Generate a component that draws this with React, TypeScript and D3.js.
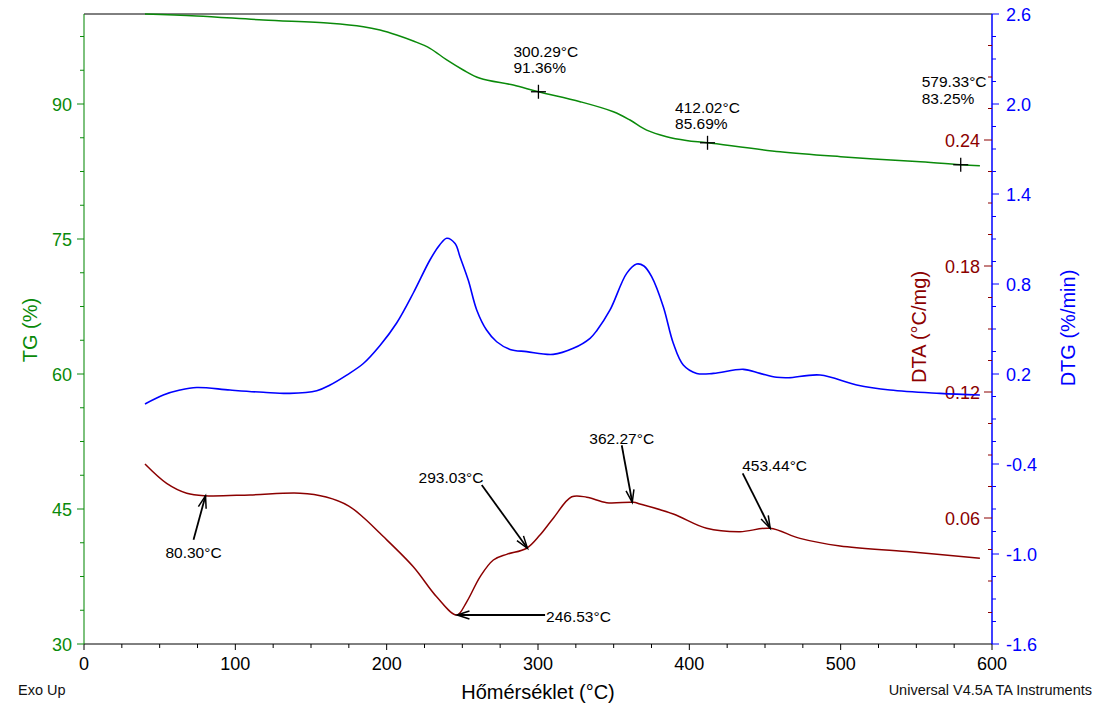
import React from 'react';
import * as d3 from 'd3';

// ---------- data ----------
const tgTemp = [40.3, 74.5, 118.5, 162.6, 184.6, 195.6, 206.6, 217.6, 228.6, 239.7, 250.6, 261.7, 283.7, 300.3, 327.8, 349.8, 360.8, 371.8, 385, 398, 412, 460, 500, 550, 579.3, 592];
const tgValue = [100.0, 99.78, 99.33, 98.97, 98.59, 98.22, 97.67, 97.0, 96.19, 94.89, 93.78, 92.86, 92.1, 91.36, 90.26, 89.14, 88.22, 87.1, 86.37, 85.95, 85.69, 84.7, 84.15, 83.6, 83.25, 83.15];

const dtgTemp = [40.3, 52.4, 63.4, 74.5, 96.5, 118.5, 136, 153.8, 162.6, 173.6, 184.6, 195.6, 206.6, 217.6, 228.6, 235, 239.7, 245.2, 248.5, 254, 259.5, 266, 272.7, 281.5, 292.5, 310, 323.3, 334.4, 338.8, 347.6, 358.6, 365.2, 370, 375.1, 382.8, 389.4, 396, 404.9, 415.9, 435.7, 446.7, 457.7, 465.4, 486.4, 510.6, 532.6, 565.6, 592];
const dtgValue = [0.0, 0.06, 0.093, 0.11, 0.093, 0.078, 0.071, 0.089, 0.127, 0.193, 0.27, 0.39, 0.54, 0.74, 0.96, 1.06, 1.105, 1.07, 0.98, 0.823, 0.627, 0.493, 0.415, 0.364, 0.349, 0.331, 0.371, 0.438, 0.489, 0.627, 0.871, 0.933, 0.92, 0.849, 0.649, 0.405, 0.26, 0.204, 0.204, 0.231, 0.204, 0.178, 0.175, 0.193, 0.127, 0.093, 0.071, 0.06];

const dtaTemp = [40.3, 54.6, 67.9, 80, 109.7, 142.7, 160, 175, 185, 195.6, 217.6, 233, 246.3, 252.9, 261.7, 270.5, 279.3, 292.5, 301.3, 310.1, 322.3, 332.2, 345.4, 363, 367.4, 389.4, 411.4, 433.5, 453.3, 473.1, 499.6, 543.6, 592];
const dtaValue = [0.0857, 0.0765, 0.0718, 0.0706, 0.071, 0.0718, 0.07, 0.0657, 0.06, 0.0527, 0.0368, 0.0225, 0.0138, 0.0201, 0.032, 0.04, 0.0427, 0.0456, 0.0519, 0.0599, 0.0701, 0.0699, 0.0673, 0.0675, 0.0667, 0.0619, 0.0551, 0.0535, 0.0551, 0.0503, 0.0467, 0.044, 0.0408];

const xTickLabels = [0, 100, 200, 300, 400, 500, 600];
const tgTickLabels = [30, 45, 60, 75, 90];
const dtgTickLabels = [-1.6, -1.0, -0.4, 0.2, 0.8, 1.4, 2.0, 2.6];
const dtaTickLabels = [0.06, 0.12, 0.18, 0.24];

const tgMarkTemp = [300.29, 412.02, 579.33];
const tgMarkValue = [91.36, 85.69, 83.25];

const dtaPeakTemp = [80.3, 246.53, 293.03, 362.27, 453.44];
const dtaPeakValue = [0.0706, 0.0138, 0.0456, 0.0675, 0.0551];

// ---------- layout ----------
const W = 1102, H = 709;
const L = 84, R = 992, T = 14, B = 644;
const FONT = 'Liberation Sans, Arial, sans-serif';
const GREEN = '#0a8a0a';
const BLUE = '#0000ff';
const RED = '#8b0000';
const ANN = 15.5;

const tgLabelOff = [
  { dx: -25, dy1: -34.5, dy2: -18.5 },
  { dx: -32.5, dy1: -29.5, dy2: -13.5 },
  { dx: -39, dy1: -78, dy2: -60.5 },
];
// tail offsets and label offsets relative to tip
const peakOff = [
  { tx: -12, ty: 44, lx: -12, ly: 62, anchor: 'middle' },
  { tx: 88, ty: 0, lx: 89, ly: 7, anchor: 'start' },
  { tx: -45.7, ty: -63.3, lx: -44, ly: -65, anchor: 'end' },
  { tx: -10.5, ty: -57, lx: -10.5, ly: -58, anchor: 'middle' },
  { tx: -27.5, ty: -55, lx: -28, ly: -57, anchor: 'start' },
];

export default function App() {
  const x = d3.scaleLinear().domain([0, 600]).range([L, R]);
  const yTG = d3.scaleLinear().domain([30, 100]).range([B, T]);
  const yDTG = d3.scaleLinear().domain([-1.6, 2.6]).range([B, T]);
  const yDTA = d3.scaleLinear().domain([0, 0.3]).range([B, T]);

  const mk = (ts: number[], vs: number[], y: (v: number) => number, curve: any) =>
    d3.line<number>().x((_, i) => x(ts[i])).y((v) => y(v)).curve(curve)(vs) || '';

  const tgPath = mk(tgTemp, tgValue, yTG, d3.curveCatmullRom.alpha(0.5));
  const dtgPath = mk(dtgTemp, dtgValue, yDTG, d3.curveCatmullRom.alpha(0.5));
  const dtaPath = mk(dtaTemp, dtaValue, yDTA, d3.curveCatmullRom.alpha(0.5));

  const xMinor = d3.range(0, 25).map((i) => i * 25);
  const tgMinor = d3.range(0, 19).map((i) => 30 + i * 3.75);
  const dtgMinor = d3.range(0, 29).map((i) => -1.6 + i * 0.15);
  const dtaMinor = d3.range(1, 20).map((i) => i * 0.015);

  const arrowHead = (tx: number, ty: number, fx: number, fy: number) => {
    const ang = Math.atan2(fy - ty, fx - tx);
    const len = 13, a = (18 * Math.PI) / 180;
    const p1 = [tx + len * Math.cos(ang + a), ty + len * Math.sin(ang + a)];
    const p2 = [tx + len * Math.cos(ang - a), ty + len * Math.sin(ang - a)];
    return `M${p1[0]},${p1[1]}L${tx},${ty}L${p2[0]},${p2[1]}`;
  };

  return (
    <svg width={W} height={H} style={{ position: 'absolute', left: 0, top: 0, background: '#fff' }} fontFamily={FONT}>
      {/* frame top */}
      <line x1={L} x2={R} y1={T} y2={T} stroke="#000" strokeWidth={1} />
      {/* bottom axis */}
      <line x1={L} x2={R} y1={B} y2={B} stroke="#000" strokeWidth={1} />
      {xMinor.map((v) => (
        <line key={'xm' + v} x1={x(v)} x2={x(v)} y1={B} y2={B + (v % 100 === 0 ? 6 : 4)} stroke="#000" />
      ))}
      {xTickLabels.map((v) => (
        <text key={'xl' + v} x={x(v)} y={670} fontSize={18} textAnchor="middle" fill="#000">{v}</text>
      ))}
      {/* left TG axis */}
      <line x1={L} x2={L} y1={T} y2={B} stroke={GREEN} strokeWidth={1.5} opacity={0.7} />
      {tgMinor.map((v, i) => (
        <line key={'tm' + i} x1={L - (i % 4 === 0 ? 7 : 4)} x2={L} y1={yTG(v)} y2={yTG(v)} stroke={GREEN} />
      ))}
      {tgTickLabels.map((v) => (
        <text key={'tl' + v} x={72} y={yTG(v) + 6.5} fontSize={18} textAnchor="end" fill={GREEN}>{v}</text>
      ))}
      {/* right DTG axis */}
      <line x1={R} x2={R} y1={T} y2={B} stroke={BLUE} strokeWidth={1.5} />
      {dtgMinor.map((v, i) => (
        <line key={'gm' + i} x1={R} x2={R + (i % 4 === 0 ? 7 : 4)} y1={yDTG(v)} y2={yDTG(v)} stroke={BLUE} />
      ))}
      {dtgTickLabels.map((v) => (
        <text key={'gl' + v} x={1006} y={yDTG(v) + 6.5} fontSize={18} textAnchor="start" fill={BLUE}>{v.toFixed(1)}</text>
      ))}
      {/* DTA ticks */}
      {dtaMinor.map((v, i) => (
        <line key={'am' + i} x1={R - ((i + 1) % 4 === 0 ? 8 : 4)} x2={R} y1={yDTA(v)} y2={yDTA(v)} stroke={RED} />
      ))}
      {dtaTickLabels.map((v) => (
        <text key={'al' + v} x={980} y={yDTA(v) + 6.5} fontSize={18} textAnchor="end" fill={RED}>{v.toFixed(2)}</text>
      ))}

      {/* curves */}
      <path d={tgPath} fill="none" stroke={GREEN} strokeWidth={1.5} />
      <path d={dtgPath} fill="none" stroke={BLUE} strokeWidth={1.6} />
      <path d={dtaPath} fill="none" stroke={RED} strokeWidth={1.5} />

      {/* TG crosshair annotations */}
      {tgMarkTemp.map((t, i) => {
        const cx = x(t), cy = yTG(tgMarkValue[i]);
        const o = tgLabelOff[i];
        return (
          <g key={'tg' + i}>
            <line x1={cx - 7.5} x2={cx + 7.5} y1={cy} y2={cy} stroke="#000" strokeWidth={1.3} />
            <line x1={cx} x2={cx} y1={cy - 7} y2={cy + 7} stroke="#000" strokeWidth={1.3} />
            <text x={cx + o.dx} y={cy + o.dy1} fontSize={ANN} fill="#000">{t.toFixed(2)}°C</text>
            <text x={cx + o.dx} y={cy + o.dy2} fontSize={ANN} fill="#000">{tgMarkValue[i].toFixed(2)}%</text>
          </g>
        );
      })}

      {/* DTA peak annotations */}
      {dtaPeakTemp.map((t, i) => {
        const px = x(t), py = yDTA(dtaPeakValue[i]);
        const o = peakOff[i];
        const fx = px + o.tx, fy = py + o.ty;
        return (
          <g key={'pk' + i}>
            <line x1={fx} y1={fy} x2={px} y2={py} stroke="#000" strokeWidth={1.8} />
            <path d={arrowHead(px, py, fx, fy)} fill="none" stroke="#000" strokeWidth={1.5} />
            <text x={px + o.lx} y={py + o.ly} fontSize={ANN} textAnchor={o.anchor as any} fill="#000">{t.toFixed(2)}°C</text>
          </g>
        );
      })}

      {/* axis titles */}
      <text transform="translate(37,330) rotate(-90)" fontSize={20} textAnchor="middle" fill={GREEN}>TG (%)</text>
      <text transform="translate(926,327) rotate(-90)" fontSize={20} textAnchor="middle" fill={RED}>DTA (°C/mg)</text>
      <text transform="translate(1075,328) rotate(-90)" fontSize={20} textAnchor="middle" fill={BLUE}>DTG (%/min)</text>
      <text x={538} y={699} fontSize={20} textAnchor="middle" fill="#000">Hőmérséklet (°C)</text>
      <text x={18} y={695} fontSize={14.5} fill="#111">Exo Up</text>
      <text x={1092} y={695} fontSize={14.5} textAnchor="end" fill="#111">Universal V4.5A TA Instruments</text>
    </svg>
  );
}
